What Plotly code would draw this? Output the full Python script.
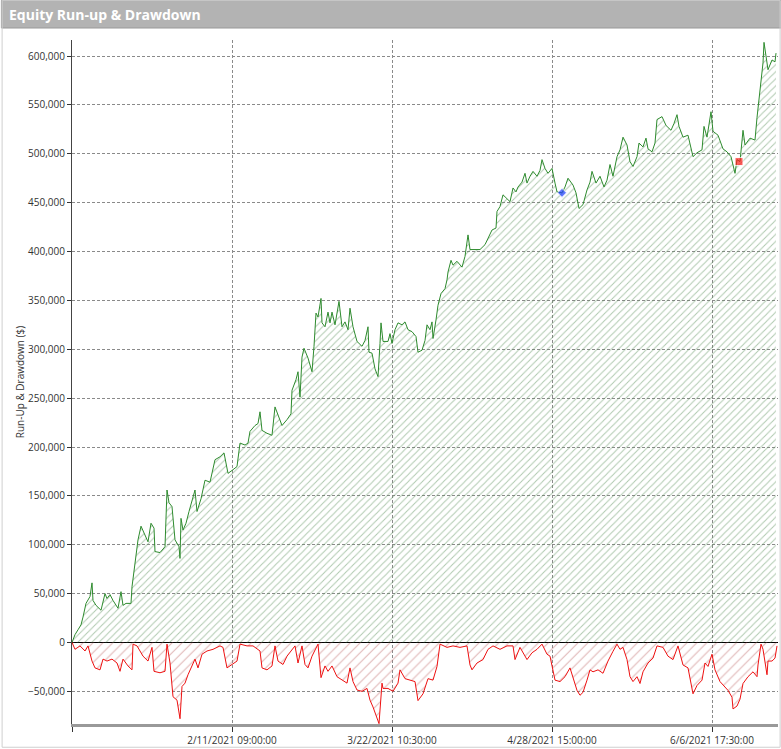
import plotly.graph_objects as go

# -- data (bar index, $ thousands) ---------------------------------------------------------------

run_bars = [0, 3, 6, 9, 11, 14, 18, 20, 21, 24, 29, 33, 35, 38, 41, 46, 49, 51, 54, 59,
            60, 63, 66, 69, 72, 76, 79, 82, 83, 88, 93, 95, 97, 100, 103, 107, 108, 109, 111, 114,
            117, 120, 123, 125, 129, 133, 138, 143, 148, 152, 156, 160, 165, 168, 173, 176, 178, 183, 186, 188,
            190, 195, 200, 203, 206, 210, 215, 219, 220, 224, 226, 228, 230, 232, 236, 240, 242, 244, 246, 249,
            250, 253, 256, 258, 260, 263, 267, 270, 273, 276, 278, 281, 285, 290, 293, 296, 297, 300, 303, 306,
            308, 309, 311, 316, 318, 320, 323, 326, 330, 333, 336, 340, 344, 346, 350, 353, 355, 358, 360, 361,
            364, 366, 369, 373, 375, 376, 379, 381, 385, 390, 393, 396, 398, 403, 408, 413, 416, 420, 424, 425,
            428, 431, 435, 438, 441, 444, 446, 450, 453, 455, 458, 461, 465, 468, 470, 473, 476, 480, 483, 485,
            490, 493, 496, 501, 504, 507, 511, 515, 518, 520, 524, 528, 532, 535, 538, 541, 545, 548, 551, 555,
            558, 561, 565, 567, 571, 574, 576, 580, 583, 585, 590, 594, 599, 602, 605, 607, 611, 616, 621, 625,
            630, 632, 635, 639, 641, 646, 651, 655, 659, 663, 665, 668, 671, 673, 678, 683, 685, 688, 691, 692,
            695, 696, 700, 703, 704]
run_up = [0, 8, 13, 18, 26, 40, 47, 61, 43, 38, 33, 50, 45, 49, 43, 35, 52, 38, 40, 40,
          57, 84, 105, 119, 112, 103, 122, 117, 93, 92, 98, 156, 143, 139, 105, 98, 86, 127, 115, 122,
          134, 144, 156, 134, 147, 166, 164, 187, 190, 194, 173, 176, 180, 204, 202, 204, 216, 222, 224, 236,
          217, 214, 212, 241, 233, 222, 228, 234, 258, 269, 277, 251, 292, 301, 291, 277, 303, 337, 333, 352,
          327, 323, 338, 327, 338, 325, 349, 323, 328, 320, 342, 323, 308, 303, 309, 323, 297, 296, 280, 272,
          306, 327, 308, 308, 316, 306, 320, 327, 325, 328, 320, 318, 313, 297, 299, 309, 325, 320, 328, 311,
          330, 345, 357, 362, 371, 379, 391, 386, 390, 384, 395, 417, 402, 402, 402, 407, 414, 422, 424, 441,
          446, 458, 454, 451, 465, 461, 466, 471, 480, 470, 477, 482, 477, 483, 494, 485, 480, 485, 470, 461,
          460, 466, 475, 468, 460, 444, 448, 463, 471, 482, 470, 477, 466, 473, 489, 477, 497, 504, 517, 509,
          492, 487, 497, 511, 507, 516, 505, 502, 511, 535, 538, 529, 524, 531, 540, 528, 517, 519, 497, 501,
          504, 528, 517, 543, 523, 519, 505, 502, 497, 480, 494, 492, 524, 509, 516, 514, 537, 565, 593, 614,
          594, 586, 596, 594, 603]

dd_bars = [0, 3, 8, 13, 16, 20, 23, 28, 31, 35, 40, 45, 48, 51, 56, 60, 61, 65, 68, 71,
           76, 80, 82, 88, 93, 95, 98, 101, 105, 108, 110, 113, 116, 120, 123, 126, 130, 135, 141, 148,
           151, 155, 160, 165, 168, 175, 181, 188, 190, 195, 200, 203, 206, 211, 215, 220, 223, 226, 230, 233,
           236, 240, 243, 246, 249, 253, 256, 260, 265, 270, 275, 278, 281, 285, 290, 295, 298, 301, 305, 307,
           310, 311, 316, 321, 326, 328, 333, 338, 343, 346, 351, 356, 361, 365, 368, 375, 381, 388, 395, 398,
           400, 405, 411, 416, 421, 428, 435, 441, 443, 448, 455, 460, 465, 470, 475, 478, 480, 483, 488, 493,
           498, 501, 505, 508, 511, 515, 518, 521, 526, 531, 536, 541, 545, 548, 551, 555, 558, 561, 565, 568,
           571, 576, 581, 585, 591, 596, 601, 606, 611, 616, 620, 621, 625, 630, 633, 636, 640, 643, 648, 653,
           656, 660, 661, 665, 668, 671, 676, 681, 685, 686, 689, 691, 695, 696, 700, 703, 705]
drawdown = [0, -7, -3.5, -8.7, -3.5, -19, -26, -28, -17, -19, -17, -21, -29.5, -17, -24, -28, -1.7, -3.5, -8.7, -14,
            -19, -5, -29.5, -31, -29.5, -1.7, -21, -55.5, -59, -78, -45, -41.6, -33, -24, -17, -26, -12, -8.7, -7, -3.5,
            -5, -26, -22.5, -19, -1.7, -3.5, -3.5, -8.7, -26, -28, -24, -3.5, -19, -22.5, -14, -7, -3.5, -21, -3.5, -22.5,
            -26, -14, -7, -1.7, -36, -24, -29.5, -24, -35, -38, -41.6, -26, -40, -48.6, -50, -47, -59, -66, -76, -83,
            -41.6, -47, -47, -50, -41.6, -28, -37, -38.5, -40, -59.5, -52.5, -37, -38.5, -24.5, -1.7, -5, -3.5, -5, -3.5, -23,
            -28, -21, -17.5, -7, -3.5, -7, -3.5, -3.5, -17.5, -5, -17.5, -10.5, -7, -1.7, -12, -14, -24.5, -38.5, -40, -35,
            -26, -37, -49, -54, -51, -38.5, -28, -30, -28, -31.5, -19, -9, -1.7, -7, -5, -17.5, -35, -40, -35, -42,
            -30, -21, -16, -3.5, -5, -14, -17.5, -3.5, -23, -26, -49, -52.5, -44, -38.5, -21, -24.5, -12, -28, -40, -45.5,
            -49, -56, -68, -65, -58, -42, -35, -30, -35, -23, -1.7, -7, -33, -19, -19, -16, -3.5]

mark_bars = [490, 667]
mark_vals = [460, 492]
mark_colors = ['#1f3fff', '#ff1a1a']

tick_bars = [0, 160, 320, 480, 640]
tick_text = ['', '2/11/2021 09:00:00', '3/22/2021 10:30:00', '4/28/2021 15:00:00', '6/6/2021 17:30:00']

# -- figure --------------------------------------------------------------------------------------

fig = go.Figure()
fig.add_trace(go.Scatter(x=run_bars, y=[v * 1000 for v in run_up], mode='lines',
                         line=dict(color='#2e8b2e', width=1),
                         fill='tozeroy', fillcolor='rgba(255,255,255,0)',
                         fillpattern=dict(shape='/', fgcolor='#5f935f', bgcolor='rgba(255,255,255,0)',
                                          size=5, solidity=0.2),
                         hoverinfo='skip'))
fig.add_trace(go.Scatter(x=dd_bars, y=[v * 1000 for v in drawdown], mode='lines',
                         line=dict(color='#ee1111', width=1),
                         fill='tozeroy', fillcolor='rgba(255,255,255,0)',
                         fillpattern=dict(shape='/', fgcolor='#c06a6a', bgcolor='rgba(255,255,255,0)',
                                          size=7, solidity=0.15),
                         hoverinfo='skip'))
fig.add_trace(go.Scatter(x=mark_bars, y=[v * 1000 for v in mark_vals], mode='markers',
                         marker=dict(color=mark_colors, size=[7, 8], symbol=['diamond', 'square']),
                         hoverinfo='skip'))

fig.update_layout(
    width=781, height=749,
    margin=dict(l=72, r=3, t=40, b=25),
    paper_bgcolor='white', plot_bgcolor='white',
    showlegend=False,
    font=dict(family='Open Sans, DejaVu Sans, sans-serif', size=10, color='#333333'),
    shapes=[
        # title bar
        dict(type='rect', xref='paper', yref='paper', x0=-0.1, x1=1.005, y0=1.0175, y1=1.058,
             fillcolor='#b3b3b3', line=dict(color='#9a9a9a', width=1), layer='below'),
        # outer frame
        dict(type='rect', xref='paper', yref='paper', x0=-0.099, x1=1.003, y0=-0.034, y1=1.058,
             line=dict(color='#cfcfcf', width=1)),
    ],
    annotations=[
        dict(text='<b>Equity Run-up & Drawdown</b>', xref='paper', yref='paper', x=-0.092, y=1.037,
             xanchor='left', yanchor='middle', showarrow=False,
             font=dict(family='Open Sans, sans-serif', size=14, color='white')),
    ],
)

fig.update_xaxes(range=[0, 706], tickmode='array', tickvals=tick_bars, ticktext=tick_text,
                 showgrid=True, gridcolor='#8a8a8a', griddash='3px,2px', gridwidth=1,
                 showline=True, linecolor='#999999', linewidth=3,
                 ticks='outside', ticklen=5, tickcolor='#333333', zeroline=False,
                 tickfont=dict(size=10, color='#333333'))
fig.update_yaxes(range=[-83400, 616400], dtick=50000, tickformat=',',
                 showgrid=True, gridcolor='#8a8a8a', griddash='3px,2px', gridwidth=1,
                 showline=True, linecolor='#444444', linewidth=1,
                 zeroline=True, zerolinecolor='black', zerolinewidth=1,
                 ticks='outside', ticklen=4, tickcolor='#333333',
                 tickfont=dict(size=10, color='#333333'),
                 title=dict(text='Run-Up & Drawdown ($)', font=dict(size=10, color='#333333'), standoff=1))

fig.write_html("out.html", config={'displayModeBar': False},
               post_script="document.body.style.margin='0';")
